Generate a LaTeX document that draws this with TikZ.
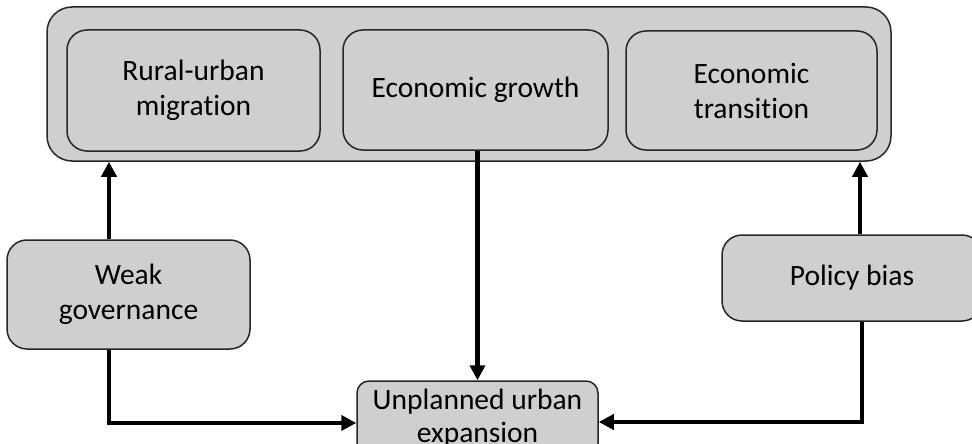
\documentclass[tikz,border=0pt]{standalone}
\usepackage{fontspec}
\setmainfont{Carlito}[Ligatures=NoCommon]
\usetikzlibrary{arrows.meta,calc}
\definecolor{boxfill}{HTML}{D0CECE}
\definecolor{boxline}{HTML}{262626}
\tikzset{
  box/.style={draw=boxline, line width=1.5pt, fill=boxfill, rounded corners=#1,
    align=center, inner sep=0pt, font=\fontsize{29.5}{35}\selectfont},
  box/.default=20pt,
  arr/.style={line width=4.5pt, -{Triangle[length=15pt,width=15pt]}}
}
\begin{document}
\begin{tikzpicture}[x=1pt,y=-1pt]
  \useasboundingbox (0,0) rectangle (972,444);
  \clip (0,0) rectangle (972,444);
  % drivers grouped in one frame
  \node[box=25pt, minimum width=844pt, minimum height=154pt] (outer) at (469,84) {};
  \node[box, minimum width=253pt, minimum height=121pt] (mig) at (193.5,90.5) {Rural-urban\\migration};
  \node[box, minimum width=265pt, minimum height=120pt] (grow) at (475.5,90) {Economic growth};
  \node[box, minimum width=251pt, minimum height=119pt] (trans) at (751.5,90.5) {Economic\\transition};
  % side factors
  \node[box, minimum width=243pt, minimum height=109pt] (weak) at (128.5,294.5) {Weak\\governance};
  \node[box, minimum width=260pt, minimum height=86pt] (policy) at (852,278) {Policy bias};
  % outcome
  \node[box=12pt, minimum width=241pt, minimum height=75pt, font=\fontsize{29.5}{33}\selectfont] (unpl) at (477.5,418.5) {Unplanned urban\\expansion};
  % connectors
  \draw[arr] ([xshift=-19.5pt]weak.north) -- ([xshift=-19.5pt]weak.north |- outer.south);
  \draw[arr] ([xshift=-19.5pt]weak.south) |- ([yshift=-4.5pt]unpl.west);
  \draw[arr] (grow.south -| unpl.north) -- (unpl.north);
  \draw[arr] ([xshift=8pt]policy.north) -- ([xshift=8pt]policy.north |- outer.south);
  \draw[arr] ([xshift=10pt]policy.south) |- ([yshift=-3.5pt]unpl.east);
\end{tikzpicture}
\end{document}
